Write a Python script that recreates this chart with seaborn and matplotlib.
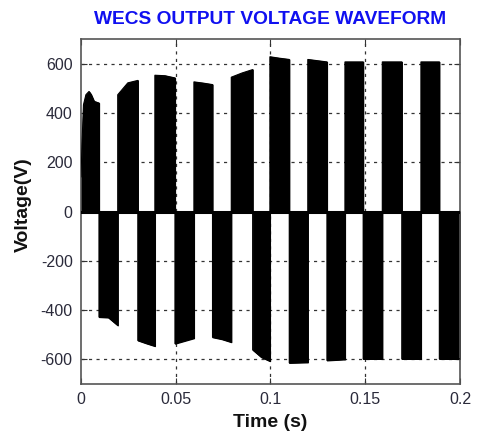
import numpy as np
import matplotlib
matplotlib.use("Agg")
import matplotlib.pyplot as plt
import seaborn as sns

# Zero-crossing instants of the inverter output (s)
cycle_edges = [0.0, 0.0095, 0.0194, 0.0300, 0.0390, 0.0496, 0.0596, 0.0694,
               0.0793, 0.0906, 0.0997, 0.1099, 0.1197, 0.1298, 0.1393, 0.1489,
               0.1590, 0.1693, 0.1794, 0.1891, 0.2000]

# Pulse-envelope voltage at the start, middle and end of each half cycle (V)
peak_start = [140, -428, 474, -523, 553, -536, 526, -510, 545, -561,
              628, -614, 617, -604, 607, -598, 607, -598, 607, -598]
peak_mid = [487, -430, 522, -535, 551, -525, 521, -518, 562, -591,
            622, -613, 612, -602, 607, -598, 607, -598, 607, -598]
peak_end = [440, -462, 532, -546, 542, -514, 515, -530, 576, -607,
            617, -612, 607, -600, 607, -598, 607, -598, 607, -598]

# Start-up transient of the first half cycle
startup_t = [0.0, 0.0005, 0.0013, 0.0026, 0.0042, 0.0053, 0.0069, 0.0095]
startup_v = [140, 270, 433, 474, 487, 475, 447, 440]

x_ticks = [0, 0.05, 0.1, 0.15, 0.2]
x_tick_labels = ["0", "0.05", "0.1", "0.15", "0.2"]
y_ticks = [-600, -400, -200, 0, 200, 400, 600]

# Assemble the envelope polygon, half cycle by half cycle
env_t, env_v = list(startup_t), list(startup_v)
for i in range(1, len(peak_start)):
    t0, t1 = cycle_edges[i], cycle_edges[i + 1]
    env_t += [t0, (t0 + t1) / 2, t1]
    env_v += [peak_start[i], peak_mid[i], peak_end[i]]
env_t, env_v = np.array(env_t), np.array(env_v)

sns.set_theme(style="white")
plt.rcParams["font.family"] = ["Liberation Sans", "DejaVu Sans"]
plt.rcParams["axes.unicode_minus"] = False

fig = plt.figure(figsize=(4.79, 4.32), dpi=100)
ax = fig.add_axes([0.1691, 0.1111, 0.7912, 0.7986])

# Dotted grid (drawn first, covered by the pulses)
for xv in x_ticks[1:-1]:
    ax.axvline(xv, color="#333333", lw=0.9, ls=(0, (2.5, 3.5)), zorder=1)
for yv in y_ticks:
    ax.axhline(yv, color="#333333", lw=0.9, ls=(0, (2.5, 3.5)), zorder=1)

# PWM pulse trains filled up to their envelope
ax.fill_between(env_t, 0, env_v, color="black", lw=0.9, edgecolor="black", zorder=2)
sns.lineplot(x=env_t, y=env_v, color="black", lw=0.8, sort=False,
             estimator=None, ax=ax, zorder=3)
# Switching band along the zero level
sns.lineplot(x=[cycle_edges[0], cycle_edges[-1]], y=[0, 0], color="black",
             lw=2.2, estimator=None, ax=ax, zorder=3)

ax.set_xlim(0, 0.2)
ax.set_ylim(-700, 700)
ax.set_xticks(x_ticks)
ax.set_xticklabels(x_tick_labels)
ax.set_yticks(y_ticks)
ax.tick_params(direction="in", length=4, width=0.8, colors="#333333",
               labelsize=11.5, labelcolor="#2a2a3a", pad=6,
               top=True, right=True, bottom=True, left=True)
for sp in ax.spines.values():
    sp.set_color("#555555")
    sp.set_linewidth(1.2)

ax.set_xlabel("Time (s)", fontsize=14, fontweight="bold", color="#111111", labelpad=5)
ax.set_ylabel("Voltage(V)", fontsize=14, fontweight="bold", color="#111111")
ax.yaxis.set_label_coords(-0.129, 0.52)
ax.set_title("WECS OUTPUT VOLTAGE WAVEFORM", fontsize=13.8, fontweight="bold",
             color="#1010f0", pad=11)

fig.savefig("out.png", dpi=100, facecolor="white")
